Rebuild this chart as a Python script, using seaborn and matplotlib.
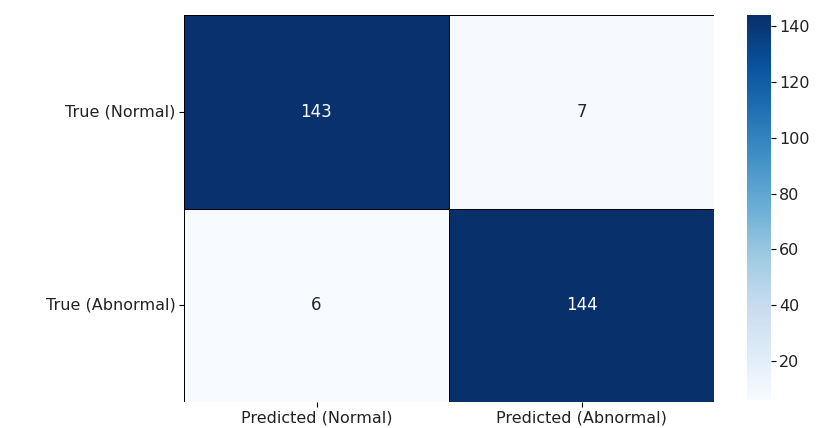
import numpy as np
import pandas as pd
import matplotlib
matplotlib.use("Agg")
import matplotlib.pyplot as plt
import seaborn as sns

row_labels = ["True (Normal)", "True (Abnormal)"]
col_labels = ["Predicted (Normal)", "Predicted (Abnormal)"]
normal_row = [143, 7]
abnormal_row = [6, 144]

cm = pd.DataFrame([normal_row, abnormal_row], index=row_labels, columns=col_labels)

fig = plt.figure(figsize=(8.26, 4.28), dpi=100)
ax = fig.add_axes([184 / 826, 1 - 402 / 428, (714 - 184) / 826, (402 - 15) / 428])
cax = fig.add_axes([747 / 826, 1 - 400 / 428, (771 - 747) / 826, (400 - 15) / 428])

label_color = "#222222"
sns.heatmap(cm, annot=True, fmt="d", cmap="Blues", linewidths=0.5, linecolor="black",
            ax=ax, cbar_ax=cax, annot_kws={"fontsize": 12})

ax.tick_params(axis="both", labelsize=11.5, labelcolor=label_color, length=3.5, pad=2.5)
ax.set_yticklabels(row_labels, rotation=0)
ax.set_xticklabels(col_labels, rotation=0)
cax.tick_params(labelsize=11.5, labelcolor=label_color, length=3.5, pad=2.5)
cax.set_yticks([20, 40, 60, 80, 100, 120, 140])
for s in cax.spines.values():
    s.set_visible(False)

fig.savefig("out.png", dpi=100)
